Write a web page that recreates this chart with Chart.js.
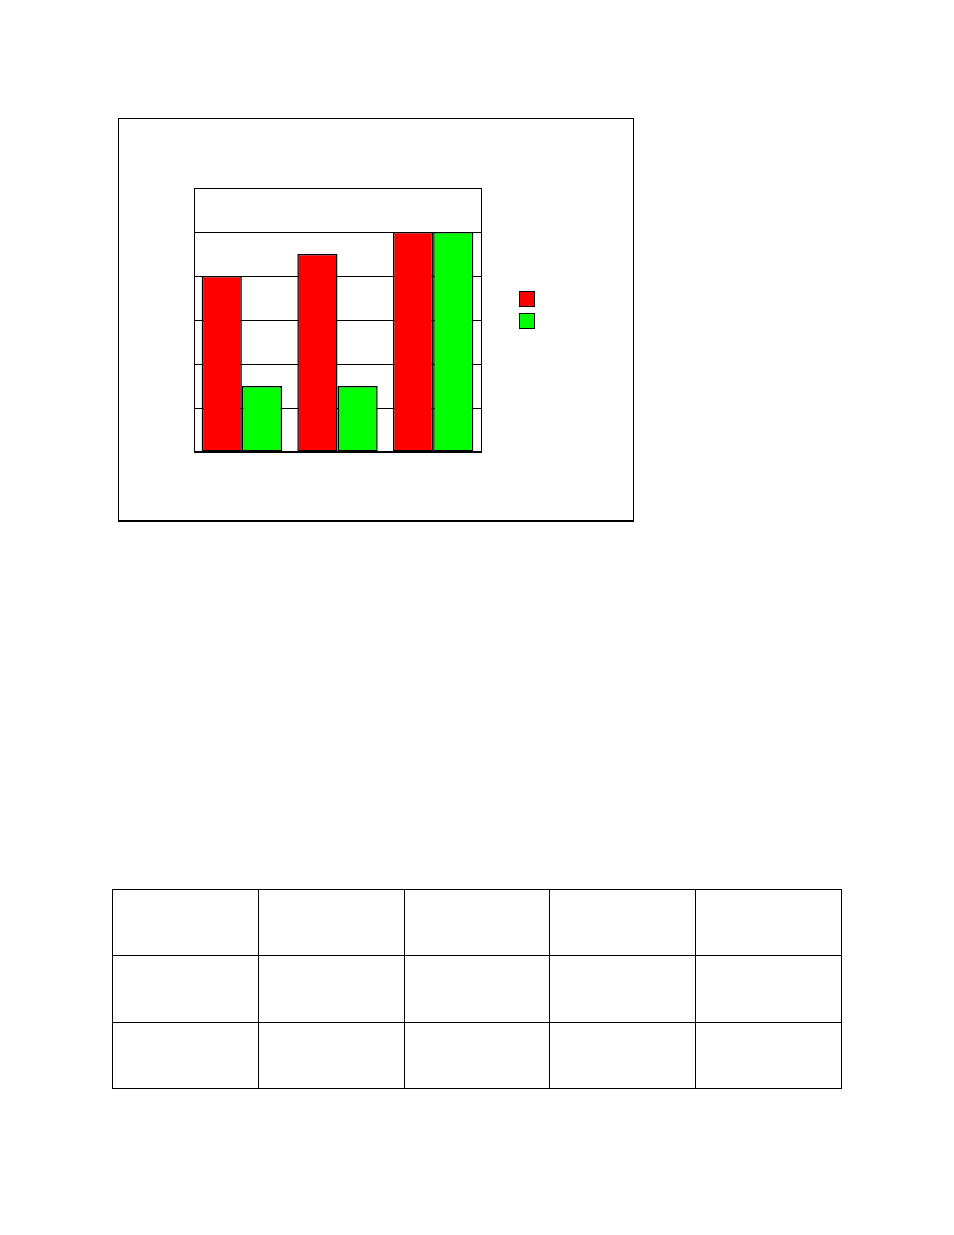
<!DOCTYPE html>
<html>
<head>
<meta charset="utf-8">
<script src="https://cdn.jsdelivr.net/npm/chart.js@4"></script>
<style>
  body { margin: 0; background: #fff; font-family: "Liberation Sans", Arial, sans-serif; }
  #box { position: absolute; left: 118px; top: 118px; width: 514px; height: 401px;
         border: 1px solid #000; border-bottom-width: 2px; }
  #grafico { display: block; }
  #tabella { position: absolute; left: 112px; top: 889px; width: 730px; height: 200px;
             border-collapse: collapse; table-layout: fixed; }
  #tabella td { border: 1px solid #000; padding: 0; }
</style>
</head>
<body>
<div id="box"><canvas id="grafico" width="514" height="401"></canvas></div>
<table id="tabella">
  <tr><td></td><td></td><td></td><td></td><td></td></tr>
  <tr><td></td><td></td><td></td><td></td><td></td></tr>
  <tr><td></td><td></td><td></td><td></td><td></td></tr>
</table>
<script>
// dati
var categorie = ['', '', ''];
var serieRossa = [4, 4.5, 5];
var serieVerde = [1.5, 1.5, 5];
var maxY = 6;

// bordo dell'area del grafico e legenda senza testo
var cornice = {
  id: 'cornice',
  afterDraw: function (chart) {
    var ctx = chart.ctx;
    var a = chart.chartArea;
    ctx.save();
    ctx.strokeStyle = '#000';
    ctx.lineWidth = 1;
    ctx.strokeRect(Math.round(a.left) + 0.5, Math.round(a.top) + 0.5,
                   Math.round(a.right - a.left), Math.round(a.bottom - a.top));
    ctx.lineWidth = 2;
    ctx.beginPath();
    ctx.moveTo(a.left, Math.round(a.bottom));
    ctx.lineTo(a.right + 1, Math.round(a.bottom));
    ctx.stroke();
    // legenda
    ctx.lineWidth = 1;
    chart.data.datasets.forEach(function (ds, i) {
      var x = Math.round(a.right) + 38.5;
      var y = Math.round(a.top) + 103.5 + i * 22;
      ctx.fillStyle = ds.backgroundColor;
      ctx.fillRect(x, y, 15, 15);
      ctx.strokeRect(x, y, 15, 15);
    });
    ctx.restore();
  }
};

var ctx = document.getElementById('grafico').getContext('2d');
var grafico = new Chart(ctx, {
  type: 'bar',
  data: {
    labels: categorie,
    datasets: [{
      label: '',
      data: serieRossa,
      backgroundColor: '#ff0000',
      borderColor: '#000',
      borderWidth: 1.5,
      borderSkipped: false
    }, {
      label: '',
      data: serieVerde,
      backgroundColor: '#00ff00',
      borderColor: '#000',
      borderWidth: 1.5,
      borderSkipped: false
    }]
  },
  options: {
    responsive: false,
    animation: false,
    layout: { padding: { left: 75, right: 152, top: 69, bottom: 68 } },
    plugins: { legend: { display: false }, tooltip: { enabled: false } },
    datasets: { bar: { categoryPercentage: 0.84, barPercentage: 1 } },
    scales: {
      x: {
        display: true,
        grid: { display: false, drawTicks: false },
        ticks: { display: false },
        border: { display: false }
      },
      y: {
        min: 0,
        max: maxY,
        display: true,
        ticks: { display: false, stepSize: 1 },
        grid: { color: '#000', lineWidth: 1, drawTicks: false },
        border: { display: false }
      }
    }
  },
  plugins: [cornice]
});
</script>
</body>
</html>
